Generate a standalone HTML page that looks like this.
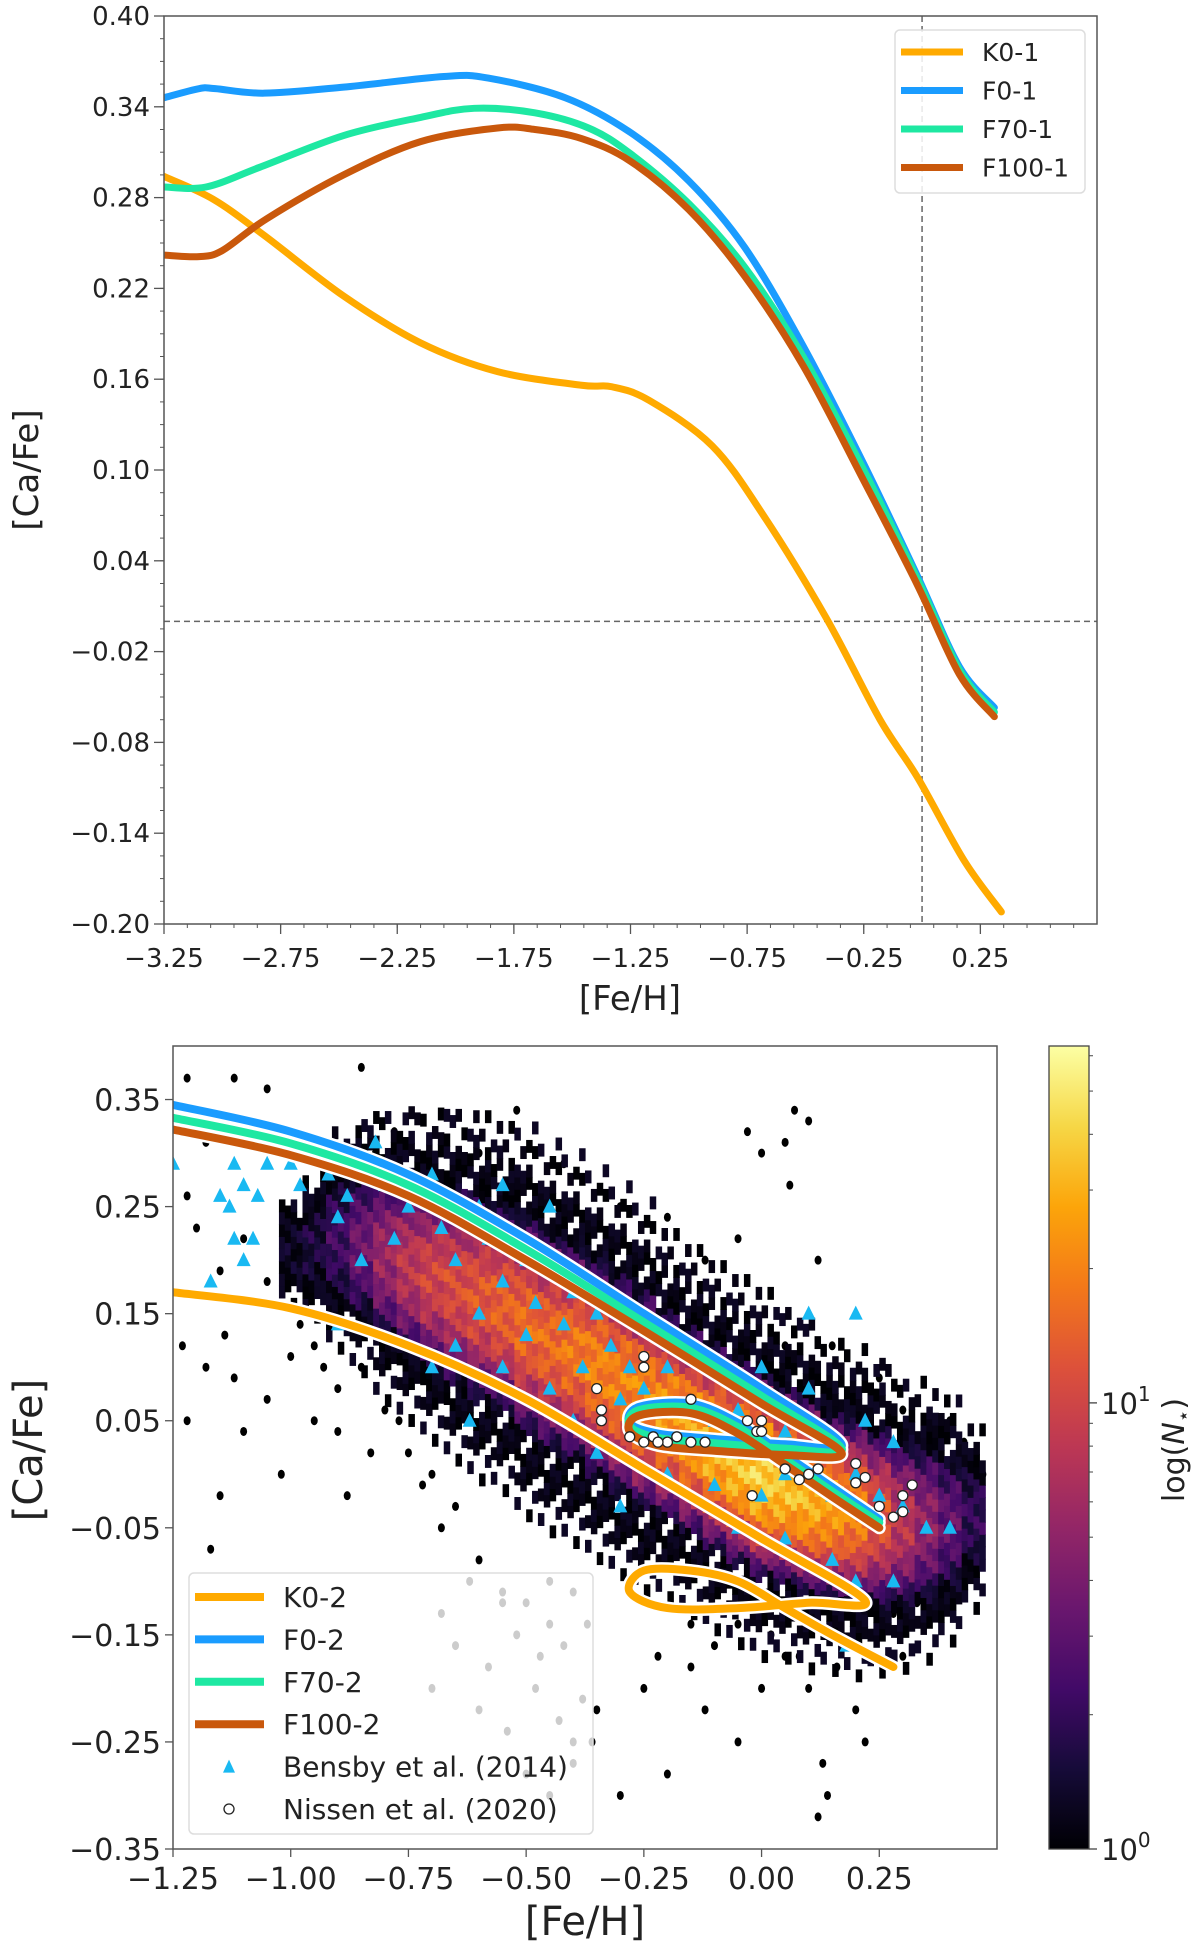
<!DOCTYPE html>
<html><head><meta charset="utf-8"><style>
body{margin:0;background:#fff}
svg{display:block;font-family:"DejaVu Sans","Liberation Sans",sans-serif}
</style></head><body>
<svg id="fig" width="1200" height="1947" viewBox="0 0 1200 1947" xmlns="http://www.w3.org/2000/svg">
<defs>
<clipPath id="clipTop"><rect x="164" y="16" width="933" height="908"/></clipPath>
<clipPath id="clipBot"><rect x="173" y="1046" width="824" height="803"/></clipPath>
<linearGradient id="inferno" x1="0" y1="1" x2="0" y2="0">
<stop offset="0" stop-color="#000004"/><stop offset="0.1" stop-color="#160b39"/><stop offset="0.2" stop-color="#420a68"/><stop offset="0.3" stop-color="#6a176e"/><stop offset="0.4" stop-color="#932667"/><stop offset="0.5" stop-color="#bc3754"/><stop offset="0.6" stop-color="#dd513a"/><stop offset="0.7" stop-color="#f37819"/><stop offset="0.8" stop-color="#fca50a"/><stop offset="0.9" stop-color="#f6d746"/><stop offset="1" stop-color="#fcffa4"/>
</linearGradient>
</defs>
<g id="top"></g>
<g id="bot"></g>
</svg>
<script>
// ---------- TOP PANEL DATA ----------
const topK0x=[-3.25,-3.04,-2.82,-2.48,-2.15,-1.82,-1.46,-1.33,-1.17,-0.9,-0.68,-0.41,-0.18,-0.02,0.18,0.34];
const topK0y=[0.294,0.279,0.255,0.215,0.184,0.165,0.156,0.155,0.146,0.116,0.07,0.002,-0.065,-0.103,-0.158,-0.192];
const topF0x=[-3.25,-3.1,-3.03,-2.82,-2.48,-2.05,-1.86,-1.53,-1.25,-1.0,-0.76,-0.51,-0.25,-0.02,0.16,0.31];
const topF0y=[0.346,0.352,0.352,0.349,0.353,0.36,0.359,0.346,0.323,0.291,0.247,0.182,0.104,0.03,-0.03,-0.057];
const topF70x=[-3.25,-3.07,-2.84,-2.48,-2.15,-1.92,-1.66,-1.43,-1.25,-1.0,-0.76,-0.51,-0.25,-0.02,0.16,0.31];
const topF70y=[0.287,0.287,0.30,0.321,0.333,0.339,0.336,0.326,0.309,0.276,0.234,0.175,0.10,0.028,-0.032,-0.06];
const topF100x=[-3.25,-3.1,-3.0,-2.81,-2.48,-2.15,-1.82,-1.66,-1.46,-1.25,-1.0,-0.76,-0.51,-0.25,-0.02,0.16,0.31];
const topF100y=[0.242,0.241,0.245,0.266,0.295,0.317,0.326,0.325,0.319,0.304,0.272,0.228,0.169,0.093,0.024,-0.035,-0.063];
const topXTicks=[-3.25,-2.75,-2.25,-1.75,-1.25,-0.75,-0.25,0.25];
const topYTicks=[0.40,0.34,0.28,0.22,0.16,0.10,0.04,-0.02,-0.08,-0.14,-0.20];
const topLegend=["K0-1","F0-1","F70-1","F100-1"];

// ---------- BOTTOM PANEL DATA ----------
const densX=[-1.0,-0.95,-0.9,-0.85,-0.8,-0.75,-0.7,-0.65,-0.6,-0.55,-0.5,-0.45,-0.4,-0.35,-0.3,-0.25,-0.2,-0.15,-0.1,-0.05,0.0,0.05,0.1,0.15,0.2,0.25,0.3,0.35,0.4,0.45];
const densCenter=[0.21,0.215,0.22,0.215,0.205,0.195,0.185,0.175,0.165,0.155,0.14,0.125,0.115,0.1,0.085,0.07,0.055,0.04,0.025,0.012,0.0,-0.01,-0.02,-0.03,-0.035,-0.04,-0.045,-0.045,-0.045,-0.04];
const densHalfWidth=[0.03,0.04,0.06,0.07,0.08,0.085,0.09,0.095,0.1,0.1,0.105,0.105,0.105,0.105,0.105,0.105,0.1,0.1,0.1,0.1,0.1,0.095,0.095,0.09,0.09,0.085,0.08,0.075,0.065,0.05];
const densPeakLog=[0.1,0.2,0.35,0.55,0.75,0.9,1.0,1.05,1.1,1.15,1.2,1.2,1.25,1.3,1.3,1.35,1.4,1.45,1.5,1.55,1.6,1.55,1.5,1.4,1.3,1.1,0.9,0.7,0.5,0.3];
const outX=[-1.22,-1.2,-1.18,-1.05,-1.12,-0.85,-1.22,-1.2,-1.15,-1.1,-1.05,-1.0,-1.23,-1.18,-1.12,-1.05,-1.0,-0.95,-1.22,-1.15,-1.1,-1.02,-0.95,-0.9,-0.85,-0.8,-0.75,-1.17,-0.88,-0.82,-0.78,-0.6,-0.52,-0.42,-0.3,-0.2,-0.12,-0.05,-0.03,0.0,0.05,0.07,0.1,0.06,0.12,0.05,0.15,0.25,0.3,0.4,0.45,0.47,0.45,0.38,0.35,0.3,0.2,0.13,0.14,0.1,0.0,-0.05,-0.12,-0.2,-0.25,-0.35,-0.3,-0.4,0.12,0.22,-0.15,0.05,-0.45,-0.55,-0.6,-0.68,-0.7,0.25,0.4,0.43,-0.98,-0.93,-1.08,-1.14,-0.9,-0.87,-0.83,-0.77,-0.72,-0.65,-0.1,-0.05,0.02,0.08,0.16,0.28,0.33,0.36,-0.15,-0.22];
const outY=[0.37,0.33,0.31,0.36,0.37,0.38,0.26,0.23,0.19,0.22,0.18,0.2,0.12,0.1,0.09,0.07,0.11,0.12,0.05,-0.02,0.04,0.0,0.05,0.08,0.1,0.06,0.02,-0.07,-0.02,0.3,0.32,0.3,0.34,0.29,0.25,0.24,0.2,0.22,0.32,0.3,0.31,0.34,0.33,0.27,0.2,0.12,0.12,0.09,0.06,0.05,0.02,0.0,-0.08,-0.1,-0.14,-0.17,-0.22,-0.27,-0.3,-0.2,-0.2,-0.25,-0.22,-0.28,-0.2,-0.22,-0.3,-0.25,-0.32,-0.25,-0.18,-0.17,-0.14,-0.12,-0.08,-0.05,0.0,-0.15,-0.05,0.03,0.14,0.1,0.16,0.13,0.04,0.14,0.02,0.05,-0.01,-0.03,-0.16,-0.14,-0.15,-0.17,-0.18,-0.13,-0.12,-0.09,-0.14,-0.17];
const grayX=[-0.68,-0.62,-0.55,-0.5,-0.45,-0.4,-0.65,-0.58,-0.52,-0.47,-0.42,-0.37,-0.6,-0.54,-0.48,-0.43,-0.38,-0.5,-0.45,-0.4,-0.7,-0.36];
const grayY=[-0.13,-0.1,-0.11,-0.12,-0.1,-0.11,-0.16,-0.18,-0.15,-0.17,-0.16,-0.14,-0.22,-0.24,-0.2,-0.23,-0.21,-0.28,-0.3,-0.27,-0.2,-0.25];
const bensX=[-1.25,-1.12,-1.1,-1.05,-1.15,-1.13,-1.07,-1.0,-0.98,-0.92,-0.88,-0.9,-0.82,-0.8,-1.12,-1.08,-1.1,-1.17,-0.85,-0.78,-0.75,-0.7,-0.68,-0.65,-0.6,-0.58,-0.55,-0.5,-0.48,-0.45,-0.42,-0.4,-0.38,-0.35,-0.32,-0.3,-0.28,-0.6,-0.65,-0.55,-0.5,-0.45,-0.4,-0.7,-0.62,-0.25,-0.2,-0.15,-0.1,-0.05,0.0,0.05,-0.2,-0.1,0.0,0.05,0.1,0.15,0.2,0.25,0.3,0.22,0.28,0.35,-0.05,0.05,0.15,0.2,0.28,-0.3,-0.35,0.1,0.2,-0.9,0.4,0.18,-0.55,-0.45,0.0,0.1];
const bensY=[0.29,0.29,0.27,0.29,0.26,0.25,0.26,0.29,0.27,0.28,0.26,0.24,0.31,0.27,0.22,0.22,0.2,0.18,0.2,0.22,0.25,0.28,0.23,0.2,0.25,0.22,0.18,0.2,0.16,0.2,0.14,0.17,0.1,0.15,0.12,0.07,0.1,0.15,0.12,0.1,0.13,0.08,0.05,0.1,0.05,0.08,0.1,0.06,0.05,0.06,0.04,0.04,0.0,-0.01,-0.02,0.0,0.0,-0.02,0.0,-0.02,-0.03,0.05,0.03,-0.05,-0.05,-0.06,-0.08,-0.1,-0.1,-0.03,0.02,0.15,0.15,0.14,-0.05,-0.16,0.27,0.25,0.1,0.08];
const nisX=[-0.35,-0.34,-0.34,-0.25,-0.25,-0.28,-0.25,-0.23,-0.2,-0.18,-0.15,-0.12,-0.22,-0.15,-0.03,-0.01,0.0,0.0,0.05,0.08,0.1,0.12,-0.02,0.2,0.22,0.2,0.25,0.28,0.3,0.3,0.32];
const nisY=[0.08,0.06,0.05,0.1,0.11,0.035,0.03,0.035,0.03,0.035,0.03,0.03,0.03,0.07,0.05,0.04,0.05,0.04,0.005,-0.005,0.0,0.005,-0.02,0.01,-0.003,-0.008,-0.03,-0.04,-0.035,-0.02,-0.01];
const botFx=[-1.25,-1.0,-0.75,-0.5,-0.25,0.0,0.17,0.05,-0.1,-0.22,-0.28,-0.26,-0.15,-0.05,0.05,0.15,0.25];
const botF0y=[0.345,0.32,0.28,0.22,0.15,0.08,0.028,0.028,0.033,0.038,0.048,0.063,0.066,0.048,0.018,-0.012,-0.042];
const botF70y=[0.333,0.309,0.27,0.21,0.142,0.073,0.024,0.024,0.029,0.034,0.045,0.06,0.062,0.044,0.014,-0.016,-0.045];
const botF100y=[0.322,0.298,0.26,0.2,0.134,0.066,0.02,0.018,0.022,0.027,0.04,0.055,0.057,0.038,0.009,-0.021,-0.05];
const botK0x=[-1.25,-1.0,-0.75,-0.5,-0.25,0.0,0.22,0.1,-0.05,-0.2,-0.28,-0.25,-0.15,-0.05,0.05,0.15,0.28];
const botK0y=[0.17,0.155,0.12,0.07,0.005,-0.06,-0.118,-0.12,-0.125,-0.125,-0.11,-0.09,-0.09,-0.1,-0.125,-0.15,-0.18];
const botXTicks=[-1.25,-1.0,-0.75,-0.5,-0.25,0.0,0.25];
const botYTicks=[0.35,0.25,0.15,0.05,-0.05,-0.15,-0.25,-0.35];
const botLegend=["K0-2","F0-2","F70-2","F100-2","Bensby et al. (2014)","Nissen et al. (2020)"];
const cbMaxLog=1.8;

// ---------- helpers ----------
const NS='http://www.w3.org/2000/svg';
function mk(parent,tag,attrs,text){const e=document.createElementNS(NS,tag);for(const k in attrs)e.setAttribute(k,attrs[k]);if(text!==undefined)e.textContent=text;parent.appendChild(e);return e;}
function fmt(v,d){const s=Math.abs(v).toFixed(d);return (v<0?'\u2212':'')+s;}
function smooth(pts){let d='M'+pts[0][0]+','+pts[0][1];for(let i=0;i<pts.length-1;i++){const p0=pts[Math.max(0,i-1)],p1=pts[i],p2=pts[i+1],p3=pts[Math.min(pts.length-1,i+2)];const c1x=p1[0]+(p2[0]-p0[0])/6,c1y=p1[1]+(p2[1]-p0[1])/6,c2x=p2[0]-(p3[0]-p1[0])/6,c2y=p2[1]-(p3[1]-p1[1])/6;d+=' C'+c1x+','+c1y+' '+c2x+','+c2y+' '+p2[0]+','+p2[1];}return d;}
const infStops=[[0,0,4],[22,11,57],[66,10,104],[106,23,110],[147,38,103],[188,55,84],[221,81,58],[243,120,25],[252,165,10],[246,215,70],[252,255,164]];
function inferno(t){t=Math.max(0,Math.min(1,t));const f=t*10,i=Math.min(9,Math.floor(f)),r=f-i;const a=infStops[i],b=infStops[i+1];return 'rgb('+[0,1,2].map(k=>Math.round(a[k]+(b[k]-a[k])*r)).join(',')+')';}
const COL={K:'#ffaa00',F0:'#1a9cff',F70:'#1ee8a2',F100:'#c9580c'};

// ---------- TOP PANEL ----------
(function(){
const g=document.getElementById('top');
const L=164,R=1097,T=16,B=924,x0=-3.25,x1=0.75,y0=-0.20,y1=0.40;
const sx=v=>L+(v-x0)/(x1-x0)*(R-L), sy=v=>B-(v-y0)/(y1-y0)*(B-T);
const plot=mk(g,'g',{'clip-path':'url(#clipTop)'});


const hl=mk(plot,'line',{x1:L,x2:R,y1:sy(0),y2:sy(0),stroke:'#666','stroke-width':1.5,'stroke-dasharray':'6,4'});

const vl=mk(plot,'line',{x1:sx(0),x2:sx(0),y1:T,y2:B,stroke:'#666','stroke-width':1.5,'stroke-dasharray':'6,4'});

const series=[[topK0x,topK0y,COL.K,'line-k0-1'],[topF0x,topF0y,COL.F0,'line-f0-1'],[topF70x,topF70y,COL.F70,'line-f70-1'],[topF100x,topF100y,COL.F100,'line-f100-1']];
series.forEach(s=>{const p=mk(plot,'path',{d:smooth(s[0].map((v,i)=>[sx(v),sy(s[1][i])])),fill:'none',stroke:s[2],'stroke-width':7,'stroke-linecap':'round','stroke-linejoin':'round'});
});
mk(g,'rect',{x:L,y:T,width:R-L,height:B-T,fill:'none',stroke:'#555','stroke-width':1.5});
const ax=mk(g,'g',{});
for(let v=-3.25;v<0.75;v+=0.1){mk(ax,'line',{x1:sx(v),x2:sx(v),y1:B,y2:B+4,stroke:'#555','stroke-width':1});}
topXTicks.forEach(v=>{mk(ax,'line',{x1:sx(v),x2:sx(v),y1:B,y2:B+10,stroke:'#555','stroke-width':1.3});
mk(ax,'text',{x:sx(v),y:B+43,'font-size':26,'text-anchor':'middle',fill:'#222'},fmt(v,2));});
const ay=mk(g,'g',{});
for(let v=-0.2;v<0.4;v+=0.015){mk(ay,'line',{x1:L-4,x2:L,y1:sy(v),y2:sy(v),stroke:'#555','stroke-width':1});}
topYTicks.forEach(v=>{mk(ay,'line',{x1:L-10,x2:L,y1:sy(v),y2:sy(v),stroke:'#555','stroke-width':1.3});
mk(ay,'text',{x:L-14,y:sy(v)+9,'font-size':26,'text-anchor':'end',fill:'#222'},fmt(v,2));});
const xt=mk(g,'text',{x:630,y:1010,'font-size':34,'text-anchor':'middle',fill:'#222'},'[Fe/H]');

const yt=mk(g,'text',{x:0,y:0,'font-size':34,'text-anchor':'middle',fill:'#222',transform:'translate(38,470) rotate(-90)'},'[Ca/Fe]');

const lg=mk(g,'g',{});
mk(lg,'rect',{x:895,y:30,width:190,height:163,rx:5,fill:'#fff','fill-opacity':0.85,stroke:'#ddd','stroke-width':1.5});
const lc=[COL.K,COL.F0,COL.F70,COL.F100];
topLegend.forEach((t,i)=>{const e=mk(lg,'g',{});
const y=52+i*38.5;mk(e,'line',{x1:901,x2:963,y1:y,y2:y,stroke:lc[i],'stroke-width':7});
mk(e,'text',{x:982,y:y+9,'font-size':25,fill:'#222'},t);});
})();

// ---------- BOTTOM PANEL ----------
(function(){
const g=document.getElementById('bot');
const L=173,R=997,T=1046,B=1849,x0=-1.25,x1=0.5,y0=-0.35,y1=0.40;
const sx=v=>L+(v-x0)/(x1-x0)*(R-L), sy=v=>B-(v-y0)/(y1-y0)*(B-T);
const plot=mk(g,'g',{'clip-path':'url(#clipBot)'});

const od=mk(plot,'g',{});
outX.forEach((v,i)=>{const c=mk(od,'ellipse',{cx:sx(v),cy:sy(outY[i]),rx:3.5,ry:4.5,fill:'#000'});});
grayX.forEach((v,i)=>{const c=mk(od,'ellipse',{cx:sx(v),cy:sy(grayY[i]),rx:3.5,ry:4.5,fill:'#000'});});
const hb=mk(plot,'g',{});
const cw=0.0125,ch=0.0115;
const cwp=(R-L)*cw/(x1-x0), chp=(B-T)*ch/(y1-y0);
densX.forEach((xc,i)=>{for(let s=0;s<4;s++){const xv=xc-0.025+s*cw;const off=(s%2)*ch/2;let row=0;
for(let yv=densCenter[i]-densHalfWidth[i]*1.7;yv<=densCenter[i]+densHalfWidth[i]*1.7;yv+=ch){row++;const yy=yv+off;const d=(yy-densCenter[i])/densHalfWidth[i];
let t;
if(Math.abs(d)<1){const val=densPeakLog[i]*(1-d*d)+0.12*Math.cos(row*2.3+s*1.7+i);t=Math.max(0.02,val)/cbMaxLog;}
else{const k=(row*7+s*3+i*5)%5;if(Math.abs(d)>1.35&&k<3)continue;if(k===0)continue;t=0.03*((row+s)%3);}
const r=mk(hb,'rect',{x:sx(xv),y:sy(yy+ch/2),width:cwp+0.6,height:chp+0.6,fill:inferno(t)});
}}});
const bt=mk(plot,'g',{});
bensX.forEach((v,i)=>{const X=sx(v),Y=sy(bensY[i]);const p=mk(bt,'polygon',{points:(X-7)+','+(Y+6)+' '+(X+7)+','+(Y+6)+' '+X+','+(Y-8),fill:'#19b9f2'});});
const lines=[[botK0x,botK0y,COL.K,'line-k0-2'],[botFx,botF0y,COL.F0,'line-f0-2'],[botFx,botF70y,COL.F70,'line-f70-2'],[botFx,botF100y,COL.F100,'line-f100-2']];
lines.forEach(s=>{const d=smooth(s[0].map((v,i)=>[sx(v),sy(s[1][i])]));mk(plot,'path',{d:d,fill:'none',stroke:'#fff','stroke-width':13,'stroke-linecap':'round','stroke-linejoin':'round'});});
lines.forEach(s=>{const d=smooth(s[0].map((v,i)=>[sx(v),sy(s[1][i])]));const p=mk(plot,'path',{d:d,fill:'none',stroke:s[2],'stroke-width':8,'stroke-linecap':'round','stroke-linejoin':'round'});});
const ns=mk(plot,'g',{});
nisX.forEach((v,i)=>{const c=mk(ns,'circle',{cx:sx(v),cy:sy(nisY[i]),r:5,fill:'#fff',stroke:'#222','stroke-width':1.3});});
mk(g,'rect',{x:L,y:T,width:R-L,height:B-T,fill:'none',stroke:'#555','stroke-width':1.5});
const ax=mk(g,'g',{});
botXTicks.forEach(v=>{mk(ax,'line',{x1:sx(v),x2:sx(v),y1:B,y2:B+8,stroke:'#555','stroke-width':1.3});
mk(ax,'text',{x:sx(v),y:B+40,'font-size':30,'text-anchor':'middle',fill:'#222'},fmt(v,2));});
const ay=mk(g,'g',{});
botYTicks.forEach(v=>{mk(ay,'line',{x1:L-8,x2:L,y1:sy(v),y2:sy(v),stroke:'#555','stroke-width':1.3});
mk(ay,'text',{x:L-12,y:sy(v)+11,'font-size':30,'text-anchor':'end',fill:'#222'},fmt(v,2));});
const xt=mk(g,'text',{x:585,y:1935,'font-size':40,'text-anchor':'middle',fill:'#222'},'[Fe/H]');

const yt=mk(g,'text',{x:0,y:0,'font-size':40,'text-anchor':'middle',fill:'#222',transform:'translate(42,1450) rotate(-90)'},'[Ca/Fe]');

// legend
const lg=mk(g,'g',{});
mk(lg,'rect',{x:189,y:1573,width:404,height:261,rx:5,fill:'#fff','fill-opacity':0.8,stroke:'#ddd','stroke-width':1.5});
const lc=[COL.K,COL.F0,COL.F70,COL.F100];
botLegend.forEach((t,i)=>{const e=mk(lg,'g',{});
const y=1597+i*42.4;
if(i<4)mk(e,'line',{x1:195,x2:264,y1:y,y2:y,stroke:lc[i],'stroke-width':8});
else if(i===4)mk(e,'polygon',{points:'223,'+(y+6)+' 235,'+(y+6)+' 229,'+(y-7),fill:'#19b9f2'});
else mk(e,'circle',{cx:229,cy:y,r:5,fill:'#fff',stroke:'#222','stroke-width':1.3});
mk(e,'text',{x:283,y:y+10,'font-size':28,fill:'#222'},t);});
// colorbar
const cb=mk(g,'g',{});
const CL=1049,CR=1089,CT=1046,CB=1849;
mk(cb,'rect',{x:CL,y:CT,width:CR-CL,height:CB-CT,fill:'url(#inferno)',stroke:'#444','stroke-width':1.3});
const cy=v=>CB-Math.log10(v)/cbMaxLog*(CB-CT);
[2,3,4,5,6,7,8,9,20,30,40,50,60].forEach(v=>{if(cy(v)>CT)mk(cb,'line',{x1:CR,x2:CR+4,y1:cy(v),y2:cy(v),stroke:'#444','stroke-width':1});});
[[1,'0'],[10,'1']].forEach(a=>{const Y=cy(a[0]);mk(cb,'line',{x1:CR,x2:CR+8,y1:Y,y2:Y,stroke:'#444','stroke-width':1.3});
const t=mk(cb,'text',{x:CR+12,y:Y+11,'font-size':29,fill:'#222'});t.appendChild(document.createTextNode('10'));mk(t,'tspan',{dy:-13,'font-size':20},a[1]);});
const cl=mk(cb,'text',{x:0,y:0,'font-size':30,'text-anchor':'middle',fill:'#222',transform:'translate(1184,1450) rotate(-90)'},'log(');
mk(cl,'tspan',{'font-style':'italic'},'N');mk(cl,'tspan',{dy:6,'font-size':20},'\u22c6');mk(cl,'tspan',{dy:-6},')');

})();
</script>
</body></html>
